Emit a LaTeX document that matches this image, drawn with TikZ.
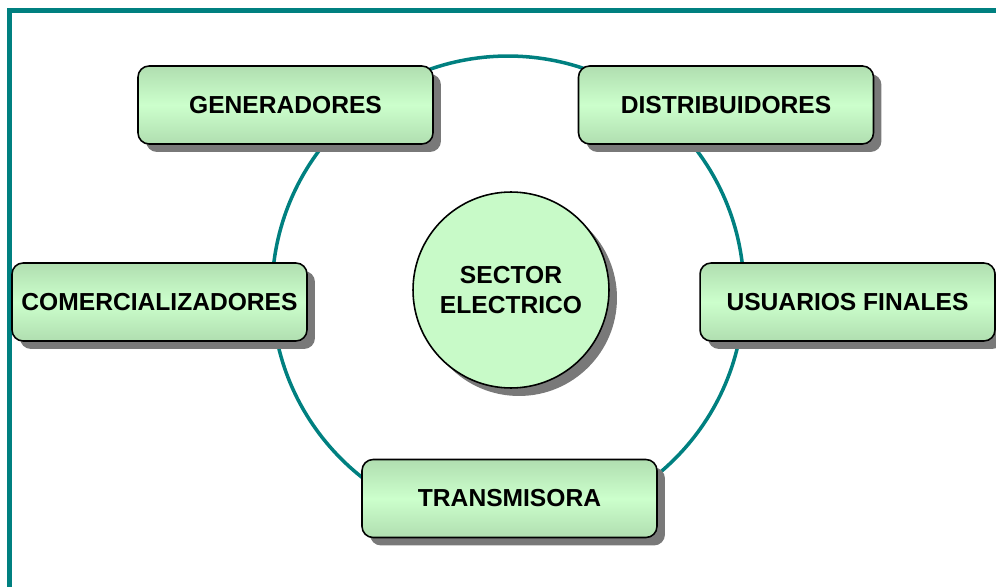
\documentclass[tikz,border=0pt]{standalone}
\usepackage{fontspec}
\setmainfont{Liberation Sans}
\usetikzlibrary{shadows}

\definecolor{frameteal}{RGB}{0,128,128}
\definecolor{boxedge}{RGB}{176,222,176}
\definecolor{boxmid}{RGB}{204,255,204}
\definecolor{hubfill}{RGB}{200,250,200}

\tikzset{
  actor/.style = {draw=black, line width=0.9pt, rounded corners=0.22cm,
    minimum width=5.9cm, minimum height=1.56cm,
    top color=boxedge, bottom color=boxedge, middle color=boxmid,
    drop shadow={shadow xshift=0.16cm, shadow yshift=-0.16cm, fill=gray!95!black, opacity=1},
    font=\fontsize{14}{17}\selectfont\bfseries},
  hub/.style = {circle, draw=black, line width=0.9pt, fill=hubfill,
    minimum size=3.92cm, inner sep=0pt, align=center,
    drop shadow={shadow xshift=0.16cm, shadow yshift=-0.16cm, fill=gray!95!black, opacity=1},
    font=\fontsize{14}{17}\selectfont\bfseries},
  ring/.style = {draw=frameteal, line width=2pt},
  frame/.style = {draw=frameteal, line width=2.9pt}
}

\begin{document}
\begin{tikzpicture}[x=0.02cm, y=-0.02cm]
    \useasboundingbox (0,0) rectangle (996,587);

    % marco
    \coordinate (fbl) at (9.5,600);
    \coordinate (ftl) at (9.5,10.5);
    \coordinate (ftr) at (1000,10.5);
    \draw[frame] (fbl) -- (ftl) -- (ftr);

    % anillo
    \coordinate (ringc) at (508,292);
    \draw[ring] (ringc) circle[radius=4.72cm];

    \node[hub] (SE) at (511,290) {SECTOR\\ELECTRICO};

    \node[actor] (GEN) at (285.5,105) {GENERADORES};
    \node[actor] (DIST) at (726,105) {DISTRIBUIDORES};
    \node[actor] (COM) at (159.5,302) {COMERCIALIZADORES};
    \node[actor] (USU) at (847.5,302) {USUARIOS FINALES};
    \node[actor] (TRA) at (509.5,498.5) {TRANSMISORA};
\end{tikzpicture}
\end{document}
